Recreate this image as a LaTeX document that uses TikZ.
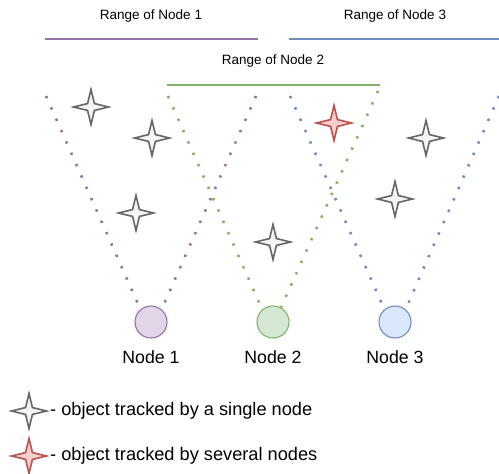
\documentclass[tikz,border=0pt]{standalone}
\usepackage{fontspec}
\setmainfont{Liberation Sans}
\usetikzlibrary{shapes.geometric}
\definecolor{pstroke}{HTML}{9673A6}\definecolor{pfill}{HTML}{E1D5E7}
\definecolor{gstroke}{HTML}{82B366}\definecolor{gfill}{HTML}{D5E8D4}
\definecolor{bstroke}{HTML}{6C8EBF}\definecolor{bfill}{HTML}{DAE8FC}
\definecolor{rstroke}{HTML}{B85450}\definecolor{rfill}{HTML}{F8CECC}
\definecolor{sstroke}{HTML}{666666}\definecolor{sfill}{HTML}{F5F5F5}
\tikzset{
  sensor/.style={circle,draw=#1stroke,fill=#1fill,line width=1.1pt,minimum size=32pt,inner sep=0pt},
  rangeline/.style={draw=#1stroke,line width=1.1pt},
  sight/.style={draw=#1stroke,line width=2.6pt,line cap=butt,dash pattern=on 2.4pt off 10pt},
  star4/.style={star,star points=4,star point ratio=3.6,minimum size=35pt,inner sep=0pt,line width=1.6pt,draw=#1stroke,fill=#1fill},
  rangelabel/.style={font=\fontsize{13.5}{16}\selectfont,inner sep=0pt},
  nodelabel/.style={font=\fontsize{17.7}{20}\selectfont,inner sep=0pt},
  legendlabel/.style={font=\fontsize{18.2}{21}\selectfont,inner sep=0pt,anchor=west},
}
\begin{document}
\begin{tikzpicture}[x=1pt,y=-1pt]
\useasboundingbox (0,0) rectangle (499,474);
% range labels and lines
\node[rangelabel] (r1) at (151,16) {Range of Node 1};
\node[rangelabel] (r3) at (395,16) {Range of Node 3};
\node[rangelabel] (r2) at (273,61) {Range of Node 2};
\coordinate (r1a) at (45,39); \coordinate (r1b) at (258,39);
\coordinate (r3a) at (289,39); \coordinate (r3b) at (499,39);
\coordinate (r2a) at (167,85); \coordinate (r2b) at (380,85);
\draw[rangeline=p] (r1a) -- (r1b);
\draw[rangeline=b] (r3a) -- (r3b);
\draw[rangeline=g] (r2a) -- (r2b);
% sensor nodes
\node[sensor=p] (n1) at (151,322) {};
\node[sensor=g] (n2) at (273,322) {};
\node[sensor=b] (n3) at (395,322) {};
\node[nodelabel] (l1) at (151,357) {Node 1};
\node[nodelabel] (l2) at (273,357) {Node 2};
\node[nodelabel] (l3) at (395,357) {Node 3};
% sight lines
\coordinate (p1) at (46,96); \coordinate (p2) at (256,96);
\coordinate (g1) at (168,96); \coordinate (g2) at (378,91);
\coordinate (b1) at (290,96); \coordinate (b2) at (499,96);
\draw[sight=p] (p1) -- (n1.130);
\draw[sight=p] (p2) -- (n1.50);
\draw[sight=g] (g1) -- (n2.131);
\draw[sight=g] (g2) -- (n2.61);
\draw[sight=b] (b1) -- (n3.130);
\draw[sight=b] (b2) -- (n3.50);
% objects
\node[star4=s] (o1) at (91,107) {};
\node[star4=s] (o2) at (152,138) {};
\node[star4=s] (o3) at (136,213) {};
\node[star4=s] (o4) at (273,242) {};
\node[star4=r] (o5) at (334,123) {};
\node[star4=s] (o6) at (426,138) {};
\node[star4=s] (o7) at (395,199) {};
% legend
\node[star4=s] (k1) at (29,411) {};
\node[star4=r] (k2) at (29,456) {};
\node[legendlabel] (t1) at (50,411) {- object tracked by a single node};
\node[legendlabel] (t2) at (50,456) {- object tracked by several nodes};
\end{tikzpicture}
\end{document}
